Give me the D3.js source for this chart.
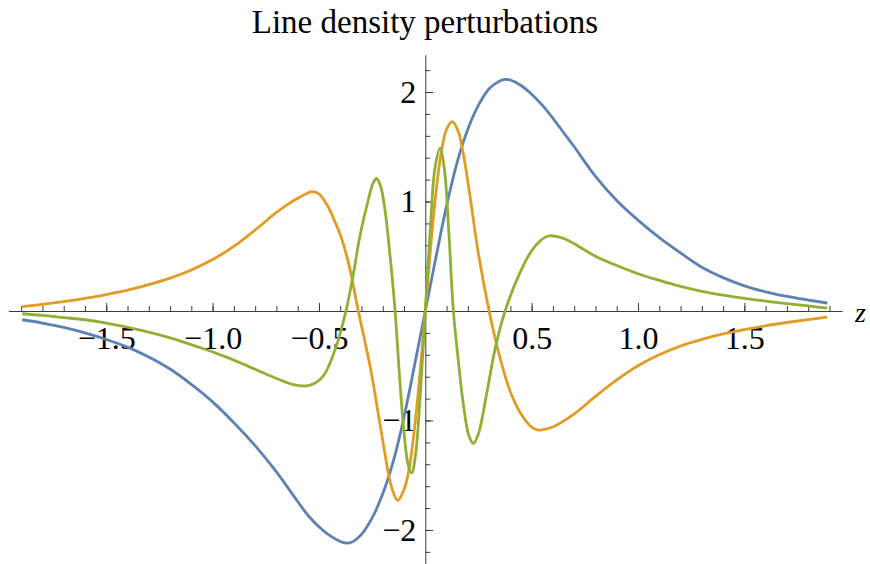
<!DOCTYPE html>
<html>
<head>
<meta charset="utf-8">
<script src="https://cdn.jsdelivr.net/npm/d3@7"></script>
<style>
  body { margin: 0; background: #fff; }
  svg { display: block; }
  text { font-family: "Liberation Serif", "Times New Roman", serif; fill: #000; }
</style>
</head>
<body>
<svg width="870" height="564"></svg>
<script>
// values
var zBlue = [-1.895, -1.8, -1.7, -1.6, -1.5, -1.4, -1.3, -1.2, -1.1, -1.0, -0.9, -0.8, -0.7, -0.6, -0.55, -0.5, -0.45, -0.4, -0.37, -0.35, -0.3, -0.25, -0.2, -0.15, -0.1, -0.05, 0,
  0.05, 0.1, 0.15, 0.2, 0.25, 0.3, 0.35, 0.375, 0.4, 0.45, 0.5, 0.55, 0.6, 0.65, 0.7, 0.8, 0.9, 1.0, 1.1, 1.2, 1.3, 1.4, 1.5, 1.6, 1.7, 1.8, 1.89]
var blue = [-0.08, -0.11, -0.15, -0.2, -0.26, -0.33, -0.42, -0.53, -0.67, -0.83, -1.02, -1.23, -1.47, -1.74, -1.87, -1.97, -2.05, -2.105, -2.12, -2.115, -2.04, -1.89, -1.67, -1.37, -0.97, -0.49, 0,
  0.49, 0.96, 1.36, 1.66, 1.88, 2.03, 2.1, 2.116, 2.11, 2.06, 1.98, 1.88, 1.76, 1.63, 1.5, 1.23, 1.01, 0.83, 0.67, 0.53, 0.4, 0.305, 0.23, 0.175, 0.133, 0.1, 0.073]

var zOrange = [-1.895, -1.8, -1.7, -1.6, -1.5, -1.4, -1.3, -1.2, -1.1, -1.0, -0.9, -0.8, -0.7, -0.65, -0.6, -0.55, -0.534, -0.5, -0.472, -0.45, -0.417, -0.4, -0.36, -0.315, -0.26, -0.22, -0.19, -0.16, -0.13, -0.1, -0.075, -0.05, -0.025, 0,
  0.025, 0.05, 0.075, 0.1, 0.127, 0.155, 0.18, 0.21, 0.25, 0.3, 0.35, 0.4, 0.45, 0.5, 0.531, 0.55, 0.6, 0.7, 0.8, 0.9, 1.0, 1.1, 1.2, 1.3, 1.4, 1.5, 1.6, 1.7, 1.8, 1.89]
var orange = [0.04, 0.06, 0.085, 0.115, 0.15, 0.19, 0.24, 0.3, 0.375, 0.47, 0.59, 0.74, 0.9, 0.97, 1.03, 1.08, 1.09, 1.07, 1.0, 0.925, 0.78, 0.7, 0.43, 0, -0.5, -0.95, -1.3, -1.6, -1.73, -1.63, -1.43, -1.06, -0.57, 0,
  0.58, 1.08, 1.45, 1.66, 1.73, 1.64, 1.42, 1.05, 0.52, 0, -0.42, -0.74, -0.94, -1.06, -1.087, -1.085, -1.06, -0.94, -0.78, -0.63, -0.5, -0.4, -0.32, -0.26, -0.21, -0.17, -0.135, -0.105, -0.078, -0.055]

var zGreen = [-1.895, -1.8, -1.7, -1.6, -1.5, -1.35, -1.2, -1.05, -0.95, -0.85, -0.75, -0.65, -0.62, -0.574, -0.545, -0.5, -0.47, -0.42, -0.373, -0.338, -0.307, -0.27, -0.245, -0.2285, -0.21, -0.19, -0.165, -0.142, -0.12, -0.1, -0.08, -0.064, -0.045, -0.025, 0,
  0.025, 0.045, 0.069, 0.09, 0.11, 0.132, 0.155, 0.18, 0.205, 0.226, 0.25, 0.289, 0.33, 0.375, 0.445, 0.5, 0.54, 0.578, 0.62, 0.66, 0.7, 0.8, 0.9, 1.0, 1.1, 1.2, 1.3, 1.4, 1.5, 1.6, 1.7, 1.8, 1.89]
var green = [-0.025, -0.04, -0.06, -0.08, -0.11, -0.17, -0.245, -0.34, -0.41, -0.49, -0.575, -0.655, -0.672, -0.685, -0.68, -0.635, -0.565, -0.33, 0, 0.34, 0.69, 1.0, 1.17, 1.21, 1.14, 0.93, 0.49, 0, -0.63, -1.11, -1.41, -1.48, -1.3, -0.8, 0,
  0.8, 1.3, 1.486, 1.29, 0.74, 0, -0.45, -0.87, -1.14, -1.21, -1.12, -0.75, -0.33, 0, 0.35, 0.55, 0.64, 0.685, 0.68, 0.655, 0.615, 0.5, 0.415, 0.34, 0.28, 0.225, 0.18, 0.145, 0.115, 0.09, 0.068, 0.046, 0.027]

var xTickLabels = [-1.5, -1.0, -0.5, 0.5, 1.0, 1.5]
var yTickLabels = [-2, -1, 1, 2]
var title = "Line density perturbations"
var axisName = "z"

var series = [
  { name: "blue", z: zBlue, v: blue, color: "#5e81b5" },
  { name: "orange", z: zOrange, v: orange, color: "#e19c24" },
  { name: "green", z: zGreen, v: green, color: "#8fb032" }
]

var svg = d3.select("svg")
var x = d3.scaleLinear().domain([-1.96, 1.96]).range([8.4, 842.2])
var y = d3.scaleLinear().domain([-2.32, 2.34]).range([565, 54.8])

var xMinor = d3.range(-19, 20).map(function(d) { return d / 10 })
var yMinor = d3.range(-11, 12).map(function(d) { return d / 5 })

var axisColor = "#3c3c3c"
var serif = "'Liberation Serif', 'Times New Roman', serif"

// x axis: ticks pointing up, labels below
var gx = svg.append("g").attr("transform", "translate(0," + y(0) + ")")
gx.call(d3.axisBottom(x).tickValues(xMinor).tickSizeInner(-5).tickSizeOuter(0).tickFormat(""))
gx.append("g").call(d3.axisBottom(x).tickValues(xTickLabels).tickSizeInner(-8).tickSizeOuter(0)
  .tickPadding(15).tickFormat(d3.format(".1f")))
  .select(".domain").remove()

// y axis: ticks pointing right, labels on the left
var gy = svg.append("g").attr("transform", "translate(" + x(0) + ",0)")
gy.call(d3.axisLeft(y).tickValues(yMinor).tickSizeInner(-5).tickSizeOuter(0).tickFormat(""))
gy.append("g").call(d3.axisLeft(y).tickValues(yTickLabels).tickSizeInner(-8).tickSizeOuter(0)
  .tickPadding(9).tickFormat(d3.format("d")))
  .select(".domain").remove()

svg.selectAll("g").attr("font-family", serif)
svg.selectAll(".domain, .tick line").attr("stroke", axisColor).attr("stroke-width", 1)
svg.selectAll(".tick text").attr("font-size", 32).attr("fill", "#000")

var line = d3.line()
  .x(function(d) { return x(d[0]) })
  .y(function(d) { return y(d[1]) })
  .curve(d3.curveCatmullRom.alpha(0.5))

svg.append("g").selectAll("path")
  .data(series)
  .enter().append("path")
  .attr("d", function(s) { return line(d3.zip(s.z, s.v)) })
  .attr("fill", "none")
  .attr("stroke", function(s) { return s.color })
  .attr("stroke-width", 2.8)
  .attr("stroke-linejoin", "round")

svg.append("text")
  .attr("x", 425)
  .attr("y", 33)
  .attr("text-anchor", "middle")
  .attr("font-size", 33)
  .text(title)

svg.append("text")
  .attr("x", 855)
  .attr("y", 322)
  .attr("font-size", 28)
  .attr("font-style", "italic")
  .text(axisName)
</script>
</body>
</html>
